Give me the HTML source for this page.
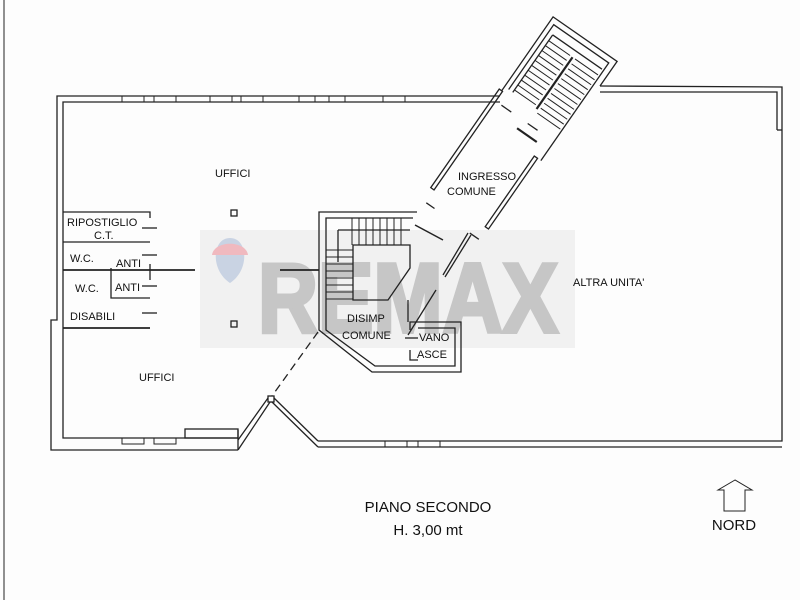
<!DOCTYPE html>
<html><head><meta charset="utf-8"><style>
html,body{margin:0;padding:0;background:#fff;}
svg{display:block;}
text{font-family:"Liberation Sans",sans-serif;fill:#111;}
</style></head><body>
<svg width="800" height="600" viewBox="0 0 800 600" xmlns="http://www.w3.org/2000/svg">
<rect width="800" height="600" fill="#fdfdfd"/>
<!-- watermark -->
<rect x="200" y="230" width="375" height="118" fill="#f1f1f1"/>
<path d="M230 283 C210 270 212 238 230 238 C248 238 250 270 230 283 Z" fill="#c9d3e3"/>
<path d="M212 255 C214 240 246 240 248 255 Z" fill="#f0b9bf"/>
<text x="258" y="332" font-size="98" font-weight="bold" style="fill:#c6c6c6;stroke:#c6c6c6;stroke-width:4" textLength="300" lengthAdjust="spacingAndGlyphs">REMAX</text>

<g fill="none" stroke="#222" stroke-width="1.3">
<line x1="4" y1="0" x2="4" y2="600" stroke-width="1"/>
<!-- left building outer -->
<polyline points="500,96 57,96 57,320 51,320 51,450 238,450"/>
<polyline points="500,102 63,102 63,438 238,438"/>
<g stroke-width="1">
<rect x="122" y="96" width="22" height="6"/><rect x="154" y="96" width="22" height="6"/>
<rect x="210" y="96" width="22" height="6"/><rect x="241" y="96" width="22" height="6"/>
<rect x="299" y="96" width="16" height="6"/><rect x="329" y="96" width="16" height="6"/>
<rect x="383" y="96" width="22" height="6"/>
<rect x="122" y="438" width="22" height="6"/><rect x="154" y="438" width="22" height="6"/>
<rect x="385" y="441" width="22" height="6"/><rect x="418" y="441" width="22" height="6"/>
</g>
<line x1="238" y1="430" x2="238" y2="450"/>
<rect x="185" y="429" width="53" height="9"/>
<!-- diagonal lower walls -->
<polyline points="238,450 270,402"/>
<polyline points="238,440 268,398"/>
<rect x="268" y="396" width="6" height="6"/>
<polyline points="274,398 318,441"/>
<polyline points="272,402 318,447"/>
<polyline points="318,441 782,441 782,87 600,86"/>
<polyline points="318,447 782,447"/>
<polyline points="600,92 777,92 777,130"/>
<line x1="777" y1="130" x2="782" y2="130"/>
<!-- dashed diagonal -->
<line x1="318" y1="332" x2="272" y2="396" stroke-dasharray="8,5"/>

<!-- stair tower + ingresso in rotated local coords -->
<g transform="translate(501.7,90.8) rotate(34.8)">
<polyline points="0,0 0,-90 78,-90 78,-60"/>
<polyline points="5,-5 5,-84 72,-84 72,-62"/>
<line x1="72" y1="-62" x2="72" y2="35"/>
<line x1="10" y1="-75" x2="70" y2="-75"/>
<line x1="10" y1="-75" x2="10" y2="-5"/>
<line x1="39" y1="-68" x2="39" y2="-5" stroke-width="2.2"/>
<g stroke-width="1">
<line x1="10" y1="-68" x2="36" y2="-68"/><line x1="10" y1="-62" x2="36" y2="-62"/>
<line x1="10" y1="-56" x2="36" y2="-56"/><line x1="10" y1="-50" x2="36" y2="-50"/>
<line x1="10" y1="-44" x2="36" y2="-44"/><line x1="10" y1="-38" x2="36" y2="-38"/>
<line x1="10" y1="-32" x2="36" y2="-32"/><line x1="10" y1="-26" x2="36" y2="-26"/>
<line x1="10" y1="-20" x2="36" y2="-20"/><line x1="10" y1="-14" x2="36" y2="-14"/>
<line x1="10" y1="-8" x2="36" y2="-8"/>
<line x1="42" y1="-68" x2="70" y2="-68"/><line x1="42" y1="-62" x2="70" y2="-62"/>
<line x1="42" y1="-56" x2="70" y2="-56"/><line x1="42" y1="-50" x2="70" y2="-50"/>
<line x1="42" y1="-44" x2="70" y2="-44"/><line x1="42" y1="-38" x2="70" y2="-38"/>
<line x1="42" y1="-32" x2="70" y2="-32"/><line x1="42" y1="-26" x2="70" y2="-26"/>
<line x1="42" y1="-20" x2="70" y2="-20"/><line x1="42" y1="-14" x2="70" y2="-14"/>
<line x1="42" y1="-8" x2="70" y2="-8"/><line x1="42" y1="-2" x2="70" y2="-2"/>
</g>
<!-- corridor walls -->
<rect x="-3" y="0" width="4" height="120"/>
<rect x="64" y="35" width="4" height="86"/>
<line x1="34" y1="22" x2="58" y2="22" stroke-width="2.2"/>
<line x1="8" y1="12" x2="20" y2="12"/><line x1="40" y1="12" x2="52" y2="12"/>
<line x1="2" y1="135" x2="12" y2="135"/><line x1="55" y1="135" x2="66" y2="135"/>
</g>
<line x1="471" y1="235" x2="445" y2="277"/>
<line x1="468" y1="233" x2="443" y2="275"/>
<line x1="436" y1="290" x2="408" y2="335"/>
<line x1="415" y1="225" x2="443" y2="240" stroke-width="1.5"/>
<!-- disimp block -->
<polyline points="417,212 319,212 319,330 372,372 461,372 461,322 410,322 410,330"/>
<polyline points="413,218 326,218 326,330 375,366 455,366 455,328 418,328"/>
<polyline points="405,338 418,338"/>
<polyline points="410,350 410,360 418,360"/>
<polyline points="408,300 408,322"/>
<polygon points="353,245 410,245 410,268 388,300 353,300"/>
<polyline points="338,230 410,230"/>
<polyline points="338,230 338,262"/>
<g stroke-width="1">
<line x1="352" y1="218" x2="352" y2="245"/><line x1="359" y1="218" x2="359" y2="245"/>
<line x1="366" y1="218" x2="366" y2="245"/><line x1="373" y1="218" x2="373" y2="245"/>
<line x1="380" y1="218" x2="380" y2="245"/><line x1="387" y1="218" x2="387" y2="245"/>
<line x1="394" y1="218" x2="394" y2="245"/><line x1="401" y1="218" x2="401" y2="245"/>
<line x1="326" y1="250" x2="353" y2="250"/><line x1="326" y1="257" x2="353" y2="257"/>
<line x1="326" y1="264" x2="353" y2="264"/><line x1="326" y1="271" x2="353" y2="271"/>
<line x1="326" y1="278" x2="353" y2="278"/><line x1="326" y1="285" x2="353" y2="285"/>
<line x1="326" y1="292" x2="353" y2="292"/><line x1="326" y1="299" x2="353" y2="299"/>
</g>
<line x1="280" y1="270" x2="319" y2="270" stroke-width="1.8"/>
<!-- left rooms -->
<polyline points="63,212 150,212 150,218"/>
<line x1="63" y1="242" x2="150" y2="242"/>
<line x1="63" y1="270" x2="195" y2="270" stroke-width="1.8"/>
<polyline points="111,268 111,298 150,298"/>
<line x1="63" y1="328" x2="150" y2="328" stroke-width="1.8"/>
<line x1="142" y1="228" x2="157" y2="228"/>
<line x1="142" y1="255" x2="157" y2="255"/>
<line x1="142" y1="286" x2="157" y2="286"/>
<line x1="142" y1="313" x2="157" y2="313"/>
<line x1="150" y1="264" x2="150" y2="280"/>
<rect x="231" y="210" width="6" height="6"/>
<rect x="231" y="321" width="6" height="6"/>
<!-- north arrow -->
<polygon points="735,480 718,490 724,490 724,511 745,511 745,490 752,490" stroke-width="1"/>
</g>
<g font-size="11">
<text x="215" y="177">UFFICI</text>
<text x="67" y="226">RIPOSTIGLIO</text>
<text x="94" y="239">C.T.</text>
<text x="70" y="262">W.C.</text>
<text x="116" y="267">ANTI</text>
<text x="75" y="292">W.C.</text>
<text x="115" y="291">ANTI</text>
<text x="70" y="320">DISABILI</text>
<text x="139" y="381">UFFICI</text>
<text x="458" y="180">INGRESSO</text>
<text x="447" y="195">COMUNE</text>
<text x="573" y="286">ALTRA UNITA'</text>
<text x="347" y="322">DISIMP</text>
<text x="342" y="339">COMUNE</text>
<text x="419" y="341">VANO</text>
<text x="417" y="358">ASCE</text>
</g>
<text x="428" y="512" font-size="15" text-anchor="middle">PIANO SECONDO</text>
<text x="428" y="535" font-size="15" text-anchor="middle">H. 3,00 mt</text>
<text x="734" y="530" font-size="15" text-anchor="middle">NORD</text>
</svg>
</body></html>
